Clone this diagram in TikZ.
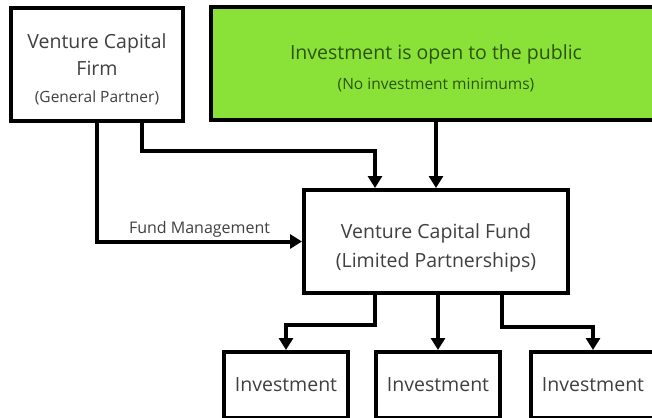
\documentclass[tikz,border=0pt]{standalone}
\usepackage{fontspec}
\setmainfont{Open Sans}
\usetikzlibrary{arrows.meta, positioning}
\definecolor{publicfill}{RGB}{138,226,56}
\definecolor{boxtext}{RGB}{64,64,64}
\definecolor{publictext}{RGB}{44,84,14}
\newcommand{\smalltxt}{\fontsize{15.5}{28}\selectfont}
\tikzset{
    box/.style={
        rectangle,
        draw=black,
        line width=4pt,
        fill=white,
        text=boxtext,
        align=center,
        inner sep=0pt,
        font=\fontsize{19.5}{27}\selectfont
    },
    publicbox/.style={
        box,
        fill=publicfill,
        text=publictext,
        font=\fontsize{19.5}{30}\selectfont
    },
    link/.style={
        draw=black,
        line width=4pt,
        -{Triangle[length=12pt,width=14pt]}
    },
    label/.style={
        font=\fontsize{16}{18}\selectfont,
        text=boxtext
    }
}

\begin{document}
\begin{tikzpicture}[x=1pt, y=1pt]
\useasboundingbox (0,-417) rectangle (652,0);
\clip (0,-417) rectangle (652,0);
% top row
\node[box, minimum width=172pt, minimum height=113pt, text height=78pt] (firm) at (97,-64.5)
    {Venture Capital\\Firm\\{\smalltxt (General Partner)}};
\node[publicbox, minimum width=450pt, minimum height=113pt, text height=55pt] (public) at (436,-63.5)
    {Investment is open to the public\\{\smalltxt (No investment minimums)}};
% fund
\node[box, minimum width=264pt, minimum height=103pt, text height=57pt, font=\fontsize{19.5}{29}\selectfont] (fund) at (436,-241.5)
    {Venture Capital Fund\\(Limited Partnerships)};
% investments
\node[box, minimum width=124pt, minimum height=66pt] (inv1) at (286,-385) {Investment};
\node[box, minimum width=124pt, minimum height=66pt] (inv2) at (438,-385) {Investment};
\node[box, minimum width=124pt, minimum height=66pt] (inv3) at (593,-385) {Investment};

\draw[link] (firm.south) |- node[label, pos=0.75, above=-1pt] {Fund Management} (fund.west);
\draw[link] ([xshift=45pt]firm.south) -- ++(0,-28) -| ([xshift=-61pt]fund.north);
\draw[link] (public.south) -- (public.south |- fund.north);
\draw[link] ([xshift=-61pt]fund.south) -- ++(0,-30) -| (inv1.north);
\draw[link] (inv2.north |- fund.south) -- (inv2.north);
\draw[link] ([xshift=66pt]fund.south) -- ++(0,-32) -| (inv3.north);
\end{tikzpicture}
\end{document}
